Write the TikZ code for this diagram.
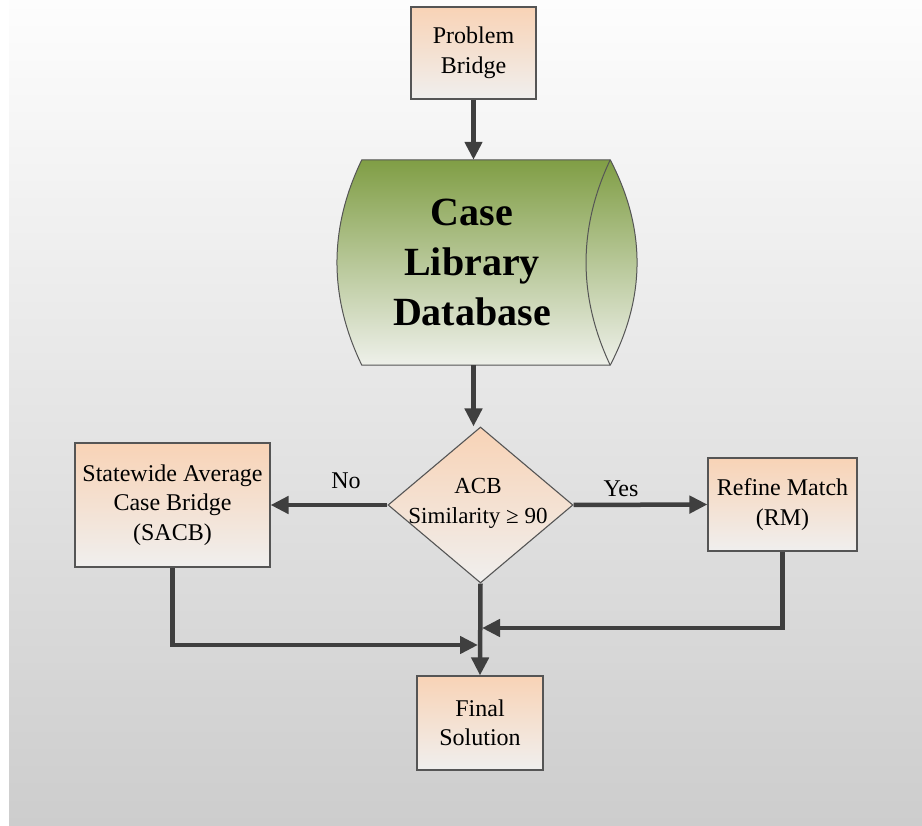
\documentclass[tikz,border=0pt]{standalone}
\usepackage{fontspec}
\setmainfont{Liberation Serif}
\usetikzlibrary{arrows.meta,shapes.geometric}
\definecolor{bgtop}{HTML}{FDFDFD}
\definecolor{bgbot}{HTML}{CDCDCD}
\definecolor{peach}{HTML}{F8D3B6}
\definecolor{paper}{HTML}{F0EFEE}
\definecolor{leaf}{HTML}{809E45}
\definecolor{leafpale}{HTML}{EEF0EA}
\definecolor{edge}{HTML}{555555}
\definecolor{flowcol}{HTML}{3F3F3F}
\begin{document}
\begin{tikzpicture}[x=1pt,y=-1pt,
  box/.style={draw=edge, line width=1.1pt, top color=peach, bottom color=paper,
    inner sep=0pt, align=center, font=\fontsize{24}{29.5}\selectfont},
  flow/.style={draw=flowcol, line width=4.5pt,
    -{Triangle[length=18pt,width=17pt]}},
  lbl/.style={font=\fontsize{24}{29}\selectfont, text=black}]
  \useasboundingbox (0,0) rectangle (922,826);
  % page background
  \fill[white] (0,0) rectangle (922,826);
  \shade[top color=bgtop, bottom color=bgbot] (9,0) rectangle (922,826);

  % process boxes
  \node[box, minimum width=125pt, minimum height=92pt] (pb) at (473.5,53) {Problem\\Bridge};
  \node[box, minimum width=195pt, minimum height=124pt] (sacb) at (172.5,505) {Statewide Average\\Case Bridge\\(SACB)};
  \node[box, minimum width=149pt, minimum height=93pt] (rm) at (782.5,504.5) {Refine Match\\(RM)};
  \node[box, minimum width=126pt, minimum height=94pt] (fin) at (480,723) {Final\\Solution};

  % stored-data cylinder (parabolic side arcs)
  \node[minimum width=248pt, minimum height=205pt, inner sep=0pt] (db) at (486,262.5) {};
  \path[draw=edge, line width=1pt, top color=leaf, bottom color=leafpale]
    (db.north west) .. controls (328.7,228.3) and (328.7,296.7) .. (db.south west)
    -- (db.south east) .. controls (646,296.7) and (646,228.3) .. (db.north east) -- cycle;
  \draw[edge, line width=1pt] (db.north east) .. controls (578,228.3) and (578,296.7) .. (db.south east);
  \node[align=center, font=\fontsize{40}{50}\selectfont\bfseries] (dbt) at (472,262) {Case\\Library\\Database};

  % decision
  \node[diamond, draw=edge, line width=1.1pt, top color=peach, bottom color=paper,
    minimum width=185pt, minimum height=156pt, inner sep=0pt] (dia) at (480.5,505) {};
  \node[align=center, font=\fontsize{23}{30}\selectfont] (diat) at (478,503) {ACB\\Similarity ≥ 90};

  % connectors
  \draw[flow] (pb.south) -- (pb.south |- db.north);
  \draw[flow] (db.south -| pb.south) -- (pb.south |- dia.north);
  \draw[flow] (dia.west) -- (sacb.east);
  \draw[flow] (dia.east) -- (rm.west);
  \node[lbl] (no) at (346,481) {No};
  \node[lbl] (yes) at (621,489) {Yes};
  \coordinate (jl) at (478,645);
  \coordinate (jr) at (482,628);
  \draw[flow] (sacb.south) |- (jl);
  \draw[flow] (rm.south) |- (jr);
  \draw[flow] (dia.south) -- (fin.north);
\end{tikzpicture}
\end{document}
